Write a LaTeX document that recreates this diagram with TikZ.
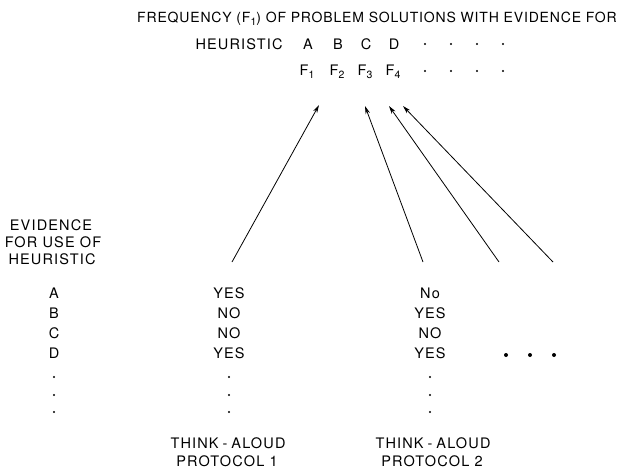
\documentclass[tikz,border=0pt]{standalone}
\usepackage{fontspec}
\setmainfont[LetterSpace=6]{TeX Gyre Heros}
\newfontfamily\bodyf[LetterSpace=8]{TeX Gyre Heros}
\usetikzlibrary{arrows.meta}
\newcommand{\subone}[1]{\raisebox{-3.5pt}{\fontsize{10.5}{10}\selectfont #1}}
\begin{document}
\begin{tikzpicture}[x=1pt,y=-1pt,
  every node/.style={font=\bodyf\fontsize{14.5}{17}\selectfont, inner sep=0pt, anchor=base},
  arr/.style={line width=0.8pt, -{Stealth[length=8pt,width=4.5pt,inset=2.5pt]}},
  sdot/.style={circle, fill, inner sep=0pt, minimum size=2.2pt, anchor=center},
  bdot/.style={circle, fill, inner sep=0pt, minimum size=4pt, anchor=center}]
\useasboundingbox (0,0) rectangle (625,469);
% title
\node[font=\rmfamily\fontsize{14}{17}\selectfont] (title) at (377,22) {FREQUENCY (F\subone{1}) OF PROBLEM SOLUTIONS WITH EVIDENCE FOR};
% heuristic row
\node (hlab) at (239,49) {HEURISTIC};
\node (hA) at (308,49) {A};
\node (hB) at (338,49) {B};
\node (hC) at (366,49) {C};
\node (hD) at (394,49) {D};
\foreach \x [count=\i] in {425,451,477,503} {
  \node[sdot] (hd\i) at (\x,44) {};
  \node[sdot] (fd\i) at (\x,71) {};
}
% F row
\node (F1) at (307,75) {F\subone{1}};
\node (F2) at (337,75) {F\subone{2}};
\node (F3) at (365,75) {F\subone{3}};
\node (F4) at (393,75) {F\subone{4}};
% left column heading
\node (ev1) at (51,230) {EVIDENCE};
\node (ev2) at (53,247) {FOR USE OF};
\node (ev3) at (52,264) {HEURISTIC};
% rows
\node (rA) at (54,298) {A};
\node (rB) at (54,318) {B};
\node (rC) at (54,338) {C};
\node (rD) at (54,358) {D};
\node (p1A) at (229,298) {YES};
\node (p1B) at (229,318) {NO};
\node (p1C) at (229,338) {NO};
\node (p1D) at (229,358) {YES};
\node (p2A) at (430,298) {No};
\node (p2B) at (430,318) {YES};
\node (p2C) at (430,338) {NO};
\node (p2D) at (430,358) {YES};
\foreach \y [count=\i] in {377,395,412} {
  \node[sdot] (ld\i) at (54,\y) {};
  \node[sdot] (ad\i) at (229,\y) {};
  \node[sdot] (bd\i) at (430,\y) {};
}
\node[bdot] (e1) at (506,355) {};
\node[bdot] (e2) at (530,355) {};
\node[bdot] (e3) at (554,355) {};
% bottom labels
\node (t1a) at (228,448) {THINK\hspace{4pt}-\hspace{4pt}ALOUD};
\node (t1b) at (227,466) {PROTOCOL 1};
\node (t2a) at (433,448) {THINK\hspace{4pt}-\hspace{4pt}ALOUD};
\node (t2b) at (432,466) {PROTOCOL 2};
% arrows
\coordinate (s1) at (232,262);
\coordinate (s2) at (423,262);
\coordinate (s3) at (499,262);
\coordinate (s4) at (553,262);
\coordinate (e1t) at (319,105);
\coordinate (e2t) at (365,106);
\coordinate (e3t) at (389,106);
\coordinate (e4t) at (403,106);
\draw[arr] (s1) -- (e1t);
\draw[arr] (s2) -- (e2t);
\draw[arr] (s3) -- (e3t);
\draw[arr] (s4) -- (e4t);
\end{tikzpicture}
\end{document}
